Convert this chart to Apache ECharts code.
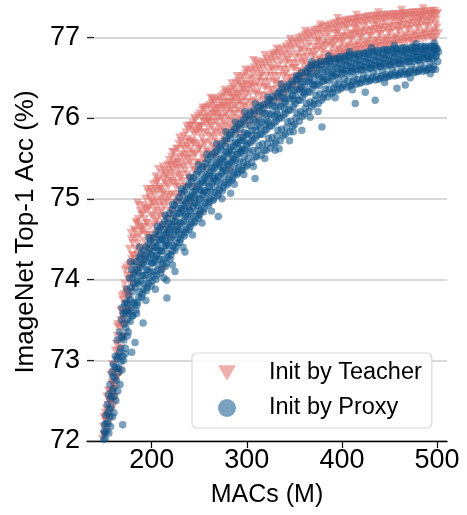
<!DOCTYPE html>
<html>
<head>
<meta charset="utf-8">
<script src="https://cdn.jsdelivr.net/npm/echarts@6/dist/echarts.min.js"></script>
<style>
  html, body { margin: 0; padding: 0; background: #fff; }
  #chart { width: 467px; height: 515px; }
</style>
</head>
<body>
<div id="chart"></div>
<script>
// Sampled subnetworks: [MACs (M), ImageNet top-1 accuracy (%)]
const teacherPoints = [
  [148.2,72.03],[149.0,72.18],[149.6,72.08],[149.9,72.3],
  [150.3,72.08],[151.1,72.35],[151.8,72.24],[152.6,72.55],[153.2,72.14],[153.9,72.45],[154.5,72.63],[154.8,72.32],
  [155.3,72.5],[156.1,72.25],[156.8,72.82],[157.4,72.6],[158.0,72.38],[158.7,72.95],[159.3,72.7],[159.8,72.5],
  [160.2,72.45],[160.9,72.85],[161.6,73.12],[162.3,72.65],[163.0,73.0],[163.6,73.3],[164.2,72.8],[164.8,73.45],
  [165.3,73.05],[165.9,72.88],[166.6,73.4],[167.2,73.62],[167.9,73.15],[168.5,73.8],[169.1,73.3],[169.7,73.55],
  [170.2,73.5],[170.8,73.28],[171.5,73.95],[172.1,73.7],[172.8,73.45],[173.4,74.15],[174.0,73.85],[174.6,73.6],
  [175.3,74.0],[175.9,73.62],[176.5,74.38],[177.1,73.85],[177.8,74.2],[178.4,74.5],[179.0,73.95],[179.6,74.3],
  [180.2,74.45],[180.9,73.92],[181.5,74.62],[182.2,74.2],[182.8,74.38],[183.5,74.7],[184.1,74.08],[184.7,74.52],
  [185.3,74.3],[185.9,74.75],[186.6,74.15],[187.2,74.55],[187.9,74.85],[188.5,74.4],[189.1,74.65],[189.7,74.25],
  [190.3,74.6],[190.9,74.3],[191.6,74.92],[192.2,74.48],[192.9,74.75],[193.5,75.0],[194.1,74.38],[194.7,74.85],
  [195.3,74.7],[195.9,74.4],[196.6,75.08],[197.2,74.55],[197.9,74.9],[198.5,75.12],[199.1,74.5],[199.7,74.8],
  [200.3,74.95],[200.9,74.5],[201.6,75.18],[202.2,74.68],[202.9,75.05],[203.5,74.85],[204.1,74.58],[204.7,75.2],
  [205.3,74.75],[205.9,75.1],[206.6,74.6],[207.2,75.25],[207.9,74.92],[208.5,74.68],[209.1,75.15],[209.7,75.0],
  [210.3,74.85],[210.9,75.32],[211.6,74.66],[212.2,75.08],[212.9,75.35],[213.5,74.78],[214.1,75.2],[214.7,74.98],
  [215.3,75.28],[215.9,74.75],[216.6,75.42],[217.2,74.95],[217.9,75.15],[218.5,75.48],[219.1,74.85],[219.7,75.32],
  [220.3,75.05],[220.9,75.52],[221.6,74.85],[222.2,75.35],[222.9,75.2],[223.5,75.58],[224.1,74.95],[224.7,75.42],
  [225.3,75.15],[225.9,75.62],[226.6,74.95],[227.2,75.45],[227.9,75.3],[228.5,75.68],[229.1,75.05],[229.7,75.52],
  [230.3,75.25],[230.9,75.72],[231.6,75.05],[232.2,75.55],[232.9,75.4],[233.5,75.78],[234.1,75.15],[234.7,75.62],
  [235.3,75.35],[235.9,75.82],[236.6,75.15],[237.2,75.65],[237.9,75.5],[238.5,75.86],[239.1,75.25],[239.7,75.7],
  [240.3,75.45],[240.9,75.9],[241.6,75.25],[242.2,75.72],[242.9,75.58],[243.5,75.94],[244.1,75.35],[244.7,75.8],
  [245.3,75.55],[245.9,75.98],[246.6,75.35],[247.2,75.82],[247.9,75.68],[248.5,76.03],[249.1,75.45],[249.7,75.88],
  [250.3,75.62],[250.9,76.06],[251.6,75.43],[252.2,75.9],[252.9,75.75],[253.5,76.1],[254.1,75.5],[254.7,75.95],
  [255.3,75.7],[255.9,76.12],[256.6,75.5],[257.2,75.95],[257.9,75.82],[258.5,76.14],[259.1,75.58],[259.7,76.0],
  [260.3,75.78],[260.9,76.16],[261.6,75.56],[262.2,76.02],[262.9,75.9],[263.5,76.19],[264.1,75.65],[264.7,76.05],
  [265.3,75.85],[265.9,76.21],[266.6,75.62],[267.2,76.08],[267.9,75.95],[268.5,76.23],[269.1,75.7],[269.7,76.12],
  [270.3,75.9],[270.9,76.25],[271.6,75.66],[272.2,76.12],[272.9,76.0],[273.5,76.27],[274.1,75.78],[274.7,76.15],
  [275.3,75.95],[275.9,76.3],[276.6,75.72],[277.2,76.15],[277.9,76.05],[278.5,76.32],[279.1,75.82],[279.7,76.2],
  [280.3,76.0],[280.9,76.33],[281.6,75.78],[282.2,76.2],[282.9,76.1],[283.5,76.36],[284.1,75.88],[284.7,76.25],
  [285.3,76.05],[285.9,76.38],[286.6,75.83],[287.2,76.25],[287.9,76.15],[288.5,76.43],[289.1,75.92],[289.7,76.3],
  [290.3,76.1],[290.9,76.46],[291.6,75.88],[292.2,76.3],[292.9,76.2],[293.5,76.5],[294.1,75.98],[294.7,76.38],
  [295.3,76.15],[295.9,76.52],[296.6,75.93],[297.2,76.35],[297.9,76.25],[298.5,76.55],[299.1,76.02],[299.7,76.42],
  [300.4,76.2],[301.2,76.58],[302.0,75.98],[302.8,76.4],[303.6,76.3],[304.4,76.6],[305.2,76.08],[306.0,76.48],[306.8,76.22],[307.6,76.63],[308.4,76.05],[309.2,76.4],
  [310.4,76.3],[311.2,76.66],[312.0,76.08],[312.8,76.5],[313.6,76.38],[314.4,76.68],[315.2,76.15],[316.0,76.55],[316.8,76.28],[317.6,76.7],[318.4,76.12],[319.2,76.45],
  [320.4,76.38],[321.2,76.73],[322.0,76.16],[322.8,76.58],[323.6,76.45],[324.4,76.76],[325.2,76.22],[326.0,76.62],[326.8,76.35],[327.6,76.78],[328.4,76.2],[329.2,76.52],
  [330.4,76.45],[331.2,76.81],[332.0,76.25],[332.8,76.65],[333.6,76.52],[334.4,76.84],[335.2,76.3],[336.0,76.7],[336.8,76.42],[337.6,76.86],[338.4,76.28],[339.2,76.6],
  [340.4,76.55],[341.2,76.89],[342.0,76.33],[342.8,76.72],[343.6,76.6],[344.4,76.92],[345.2,76.38],[346.0,76.78],[346.8,76.5],[347.6,76.94],[348.4,76.4],[349.2,76.68],
  [350.4,76.62],[351.2,76.96],[352.0,76.42],[352.8,76.8],[353.6,76.68],[354.4,76.99],[355.2,76.48],[356.0,76.85],[356.8,76.58],[357.6,77.01],[358.4,76.5],[359.2,76.75],
  [360.4,76.7],[361.2,77.03],[362.0,76.52],[362.8,76.88],[363.6,76.76],[364.4,77.05],[365.2,76.57],[366.0,76.92],[366.8,76.66],[367.6,77.07],[368.4,76.6],[369.2,76.82],
  [370.4,76.78],[371.2,77.09],[372.0,76.62],[372.8,76.95],[373.6,76.84],[374.4,77.1],[375.2,76.65],[376.0,76.98],[376.8,76.74],[377.6,77.12],[378.4,76.66],[379.2,76.9],
  [380.4,76.85],[381.2,77.13],[382.0,76.68],[382.8,77.0],[383.6,76.9],[384.4,77.14],[385.2,76.7],[386.0,77.04],[386.8,76.8],[387.6,77.16],[388.4,76.72],[389.2,76.95],
  [390.4,76.9],[391.2,77.17],[392.0,76.74],[392.8,77.05],[393.6,76.95],[394.4,77.18],[395.2,76.76],[396.0,77.08],[396.8,76.86],[397.6,77.2],[398.4,76.78],[399.2,77.0],
  [400.4,76.95],[401.2,77.2],[402.0,76.8],[402.8,77.1],[403.6,77.0],[404.4,77.21],[405.2,76.8],[406.0,77.12],[406.8,76.9],[407.6,77.22],[408.4,76.82],[409.2,77.04],
  [410.4,76.98],[411.2,77.22],[412.0,76.82],[412.8,77.12],[413.6,77.03],[414.4,77.23],[415.2,76.84],[416.0,77.15],[416.8,76.93],[417.6,77.24],[418.4,76.85],[419.2,77.06],
  [420.4,77.0],[421.2,77.24],[422.0,76.85],[422.8,77.14],[423.6,77.05],[424.4,77.25],[425.2,76.86],[426.0,77.17],[426.8,76.95],[427.6,77.26],[428.4,76.87],[429.2,77.08],
  [430.4,77.02],[431.2,77.26],[432.0,76.87],[432.8,77.16],[433.6,77.07],[434.4,77.27],[435.2,76.88],[436.0,77.19],[436.8,76.97],[437.6,77.27],[438.4,76.89],[439.2,77.1],
  [440.4,77.04],[441.2,77.27],[442.0,76.89],[442.8,77.18],[443.6,77.09],[444.4,77.28],[445.2,76.9],[446.0,77.2],[446.8,76.99],[447.6,77.28],[448.4,76.91],[449.2,77.12],
  [450.4,77.06],[451.2,77.28],[452.0,76.91],[452.8,77.2],[453.6,77.1],[454.4,77.29],[455.2,76.92],[456.0,77.22],[456.8,77.01],[457.6,77.29],[458.4,76.93],[459.2,77.14],
  [460.4,77.08],[461.2,77.29],[462.0,76.93],[462.8,77.21],[463.6,77.12],[464.4,77.3],[465.2,76.94],[466.0,77.23],[466.8,77.03],[467.6,77.3],[468.4,76.95],[469.2,77.16],
  [470.4,77.1],[471.2,77.3],[472.0,76.96],[472.8,77.22],[473.6,77.14],[474.4,77.31],[475.2,76.96],[476.0,77.24],[476.8,77.05],[477.6,77.31],[478.4,76.97],[479.2,77.18],
  [480.4,77.12],[481.2,77.31],[482.0,76.98],[482.8,77.24],[483.6,77.16],[484.4,77.32],[485.2,76.98],[486.0,77.26],[486.8,77.07],[487.6,77.32],[488.4,76.99],[489.2,77.2],
  [490.4,77.14],[491.2,77.32],[492.0,77.0],[492.8,77.26],[493.6,77.18],[494.4,77.33],[495.2,77.0],[496.0,77.27],[496.8,77.09],[497.6,77.33],[498.4,77.0],[499.2,77.22],
  [500.0,77.12],[500.8,77.3],[501.5,77.05],
  // second pass through the band
  [150.7,72.28],[152.1,72.4],[153.6,72.3],[155.7,72.62],[156.4,72.48],[157.9,72.72],[158.3,72.55],[159.6,72.85],
  [160.6,72.7],[161.3,72.55],[162.8,73.2],[163.3,72.78],[164.6,73.12],[166.2,73.22],[167.6,73.5],[168.9,73.42],[169.4,73.75],
  [170.6,73.62],[171.2,73.82],[172.5,73.88],[173.7,73.78],[174.3,74.05],[175.6,73.78],[176.2,74.18],[177.5,74.05],[178.8,74.25],[179.3,74.1],
  [180.5,74.3],[181.2,74.52],[182.6,74.6],[183.2,74.25],[184.4,74.72],[185.7,74.45],[186.3,74.68],[187.6,74.35],[188.2,74.62],[189.4,74.8],
  [190.6,74.82],[191.3,74.65],[192.6,74.58],[193.2,74.88],[194.4,74.7],[195.6,74.55],[196.2,74.88],[197.6,75.02],[198.2,74.65],[199.4,74.98],
  [200.6,75.08],[201.3,74.78],[202.6,74.95],[203.2,75.12],[204.4,74.72],[205.6,74.98],[206.2,75.22],[207.6,74.82],[208.2,75.12],[209.4,74.78],
  [210.6,75.12],[211.3,74.95],[212.6,75.24],[213.2,74.9],[214.4,75.3],[215.6,75.05],[216.2,75.18],[217.6,75.36],[218.2,75.02],[219.4,75.42],
  [220.6,75.22],[221.3,75.4],[222.6,75.06],[223.2,75.45],[224.4,75.28],[225.6,75.5],[226.2,75.2],[227.6,75.62],[228.2,75.15],[229.4,75.38],
  [230.6,75.45],[231.3,75.3],[232.6,75.65],[233.2,75.22],[234.4,75.5],[235.6,75.7],[236.2,75.42],[237.6,75.3],[238.2,75.74],[239.4,75.55],
  [240.6,75.62],[241.3,75.5],[242.6,75.85],[243.2,75.4],[244.4,75.68],[245.6,75.85],[246.2,75.55],[247.6,75.45],[248.2,75.9],[249.4,75.62],
  [250.6,75.82],[251.3,75.65],[252.6,76.0],[253.2,75.55],[254.4,75.82],[255.6,76.02],[256.2,75.68],[257.6,75.6],[258.2,76.05],[259.4,75.88],
  [260.6,75.95],[261.3,75.7],[262.6,76.1],[263.2,75.78],[264.4,75.95],[265.6,76.12],[266.2,75.75],[267.6,75.82],[268.2,76.15],[269.4,76.0],
  [270.6,76.05],[271.3,75.82],[272.6,76.2],[273.2,75.88],[274.4,76.02],[275.6,76.2],[276.2,75.85],[277.6,75.92],[278.2,76.25],[279.4,76.08],
  [280.6,76.15],[281.3,75.9],[282.6,76.3],[283.2,75.98],[284.4,76.12],[285.6,76.28],[286.2,75.95],[287.6,76.05],[288.2,76.35],[289.4,76.18],
  [290.6,76.25],[291.3,76.0],[292.6,76.42],[293.2,76.08],[294.4,76.22],[295.6,76.4],[296.2,76.05],[297.6,76.15],[298.2,76.46],[299.4,76.3],
  [300.9,76.35],[301.7,76.12],[303.1,76.5],[304.0,76.2],[305.6,76.38],[306.5,76.55],[307.9,76.15],[308.8,76.32],[309.6,76.58],
  [310.9,76.45],[311.7,76.2],[313.1,76.6],[314.0,76.28],[315.6,76.45],[316.5,76.62],[317.9,76.22],[318.8,76.38],[319.6,76.65],
  [320.9,76.52],[321.7,76.28],[323.1,76.68],[324.0,76.35],[325.6,76.52],[326.5,76.7],[327.9,76.3],[328.8,76.45],[329.6,76.72],
  [330.9,76.6],[331.7,76.36],[333.1,76.76],[334.0,76.42],[335.6,76.6],[336.5,76.78],[337.9,76.38],[338.8,76.52],[339.6,76.8],
  [340.9,76.68],[341.7,76.45],[343.1,76.84],[344.0,76.5],[345.6,76.68],[346.5,76.86],[347.9,76.46],[348.8,76.62],[349.6,76.88],
  [350.9,76.75],[351.7,76.52],[353.1,76.92],[354.0,76.58],[355.6,76.75],[356.5,76.93],[357.9,76.55],[358.8,76.68],[359.6,76.95],
  [360.9,76.82],[361.7,76.6],[363.1,76.98],[364.0,76.65],[365.6,76.82],[366.5,77.0],[367.9,76.63],[368.8,76.76],[369.6,77.02],
  [370.9,76.88],[371.7,76.68],[373.1,77.04],[374.0,76.72],[375.6,76.88],[376.5,77.05],[377.9,76.7],[378.8,76.82],[379.6,77.06],
  [380.9,76.93],[381.7,76.74],[383.1,77.08],[384.0,76.78],[385.6,76.93],[386.5,77.1],[387.9,76.76],[388.8,76.88],[389.6,77.1],
  [390.9,76.98],[391.7,76.8],[393.1,77.12],[394.0,76.84],[395.6,76.98],[396.5,77.14],[397.9,76.82],[398.8,76.93],[399.6,77.14],
  [400.9,77.02],[401.7,76.85],[403.1,77.16],[404.0,76.88],[405.6,77.02],[406.5,77.18],[407.9,76.86],[408.8,76.97],[409.6,77.17],
  [410.9,77.05],[411.7,76.88],[413.1,77.18],[414.0,76.9],[415.6,77.05],[416.5,77.2],[417.9,76.89],[418.8,77.0],[419.6,77.19],
  [420.9,77.08],[421.7,76.9],[423.1,77.2],[424.0,76.93],[425.6,77.08],[426.5,77.22],[427.9,76.91],[428.8,77.02],[429.6,77.21],
  [430.9,77.1],[431.7,76.92],[433.1,77.22],[434.0,76.95],[435.6,77.1],[436.5,77.24],[437.9,76.93],[438.8,77.04],[439.6,77.23],
  [440.9,77.12],[441.7,76.94],[443.1,77.23],[444.0,76.97],[445.6,77.12],[446.5,77.25],[447.9,76.95],[448.8,77.06],[449.6,77.24],
  [450.9,77.14],[451.7,76.96],[453.1,77.25],[454.0,76.99],[455.6,77.14],[456.5,77.26],[457.9,76.97],[458.8,77.08],[459.6,77.25],
  [460.9,77.16],[461.7,76.98],[463.1,77.26],[464.0,77.01],[465.6,77.16],[466.5,77.27],[467.9,76.99],[468.8,77.1],[469.6,77.26],
  [470.9,77.18],[471.7,77.0],[473.1,77.27],[474.0,77.03],[475.6,77.18],[476.5,77.28],[477.9,77.01],[478.8,77.12],[479.6,77.27],
  [480.9,77.2],[481.7,77.02],[483.1,77.28],[484.0,77.05],[485.6,77.2],[486.5,77.29],[487.9,77.03],[488.8,77.14],[489.6,77.28],
  [490.9,77.22],[491.7,77.04],[493.1,77.29],[494.0,77.07],[495.6,77.22],[496.5,77.3],[497.9,77.05],[498.8,77.16],[499.6,77.29],
  // ragged points along the upper and lower edges
  [163.7,73.42],[171.9,74.12],[178.1,74.58],[186.9,74.92],[195.1,75.12],[204.2,75.28],[211.8,75.4],[221.9,75.58],
  [229.3,75.76],[236.8,75.9],[244.9,76.0],[253.9,76.13],[263.9,76.24],[276.9,76.35],[289.9,76.52],[298.9,76.6],
  [309.9,76.7],[318.9,76.78],[331.5,76.86],[345.5,76.98],[361.5,77.08],[377.5,77.16],[395.5,77.24],[415.5,77.28],
  [438.5,77.31],[462.5,77.34],[485.5,77.36],
  [166.9,72.85],[176.9,73.62],[188.9,74.18],[197.9,74.35],[206.9,74.5],[214.9,74.62],[223.9,74.75],[233.9,74.95],
  [243.9,75.15],[255.9,75.38],[266.9,75.52],[278.9,75.68],[291.9,75.8],[301.9,75.9],[315.9,76.05],[334.9,76.2],
  [352.9,76.35],[372.9,76.55],[394.9,76.7],[419.9,76.8],[447.9,76.86],[474.9,76.92],[496.9,76.96],
  [203.9,74.9],[211.1,75.05],[218.9,75.25],[226.9,75.38],[235.1,75.55],[243.9,75.7],[251.1,75.9],[259.1,75.96],
  [266.9,76.05],[275.1,76.12],[284.9,76.2],[294.9,76.32],[305.1,76.42],[314.9,76.52],[327.1,76.6],[341.9,76.75],
  [357.1,76.85],[375.1,76.95],[395.1,77.05],[415.1,77.1],[437.1,77.15],[460.1,77.2],[482.1,77.24],
  // stragglers outside the main band
  [282.6,75.35],[250.8,74.8],[240.0,74.94],[212.2,74.12],[228.0,74.65],[217.5,74.51],[226.6,75.02],
  [324.5,76.2],[357.9,76.34],[401.7,76.69],[443.8,76.74],[310.6,75.99],
  [207.0,75.37],[240.3,75.91],[284.2,76.43],[307.0,76.72],[328.0,76.8],[185.0,74.95],[262.0,76.25]
];

const proxyPoints = [
  [149.5,72.02],[150.0,72.12],
  [150.4,72.2],[151.2,72.03],[151.9,72.32],[152.6,72.12],[153.3,72.45],[154.0,72.22],[154.7,72.58],[155.0,72.1],
  [155.4,72.4],[156.1,72.7],[156.8,72.18],[157.5,72.55],[158.2,72.85],[158.9,72.3],[159.5,72.95],[159.9,72.65],
  [160.3,72.35],[161.0,72.78],[161.7,73.05],[162.4,72.5],[163.1,72.9],[163.8,73.25],[164.4,72.62],[164.9,73.05],
  [165.3,72.85],[166.0,73.35],[166.7,72.7],[167.4,73.15],[168.1,73.5],[168.8,72.88],[169.4,73.3],[169.9,73.58],
  [170.3,73.0],[171.0,73.45],[171.7,73.7],[172.4,73.15],[173.1,73.6],[173.8,73.88],[174.4,73.3],[174.9,73.7],
  [175.3,73.35],[176.0,73.8],[176.7,74.02],[177.4,73.48],[178.1,73.9],[178.8,74.12],[179.4,73.55],[179.9,73.85],
  [180.3,73.55],[181.0,73.95],[181.7,74.18],[182.4,73.7],[183.1,74.05],[183.8,74.22],[184.4,73.68],[184.9,73.98],
  [185.3,73.72],[186.0,74.1],[186.7,74.28],[187.4,73.85],[188.1,74.15],[188.8,74.32],[189.4,73.78],[189.9,74.05],
  [190.3,73.82],[191.0,74.2],[191.7,74.36],[192.4,73.95],[193.1,74.25],[193.8,74.4],[194.4,73.86],[194.9,74.12],
  [195.3,73.9],[196.0,74.28],[196.7,74.44],[197.4,74.02],[198.1,74.32],[198.8,74.48],[199.4,73.92],[199.9,74.2],
  [200.3,73.98],[201.0,74.35],[201.7,74.52],[202.4,74.1],[203.1,74.4],[203.8,74.56],[204.4,74.0],[204.9,74.28],
  [205.3,74.05],[206.0,74.42],[206.7,74.6],[207.4,74.18],[208.1,74.48],[208.8,74.64],[209.4,74.08],[209.9,74.35],
  [210.3,74.12],[211.0,74.5],[211.7,74.68],[212.4,74.25],[213.1,74.55],[213.8,74.72],[214.4,74.16],[214.9,74.42],
  [215.3,74.2],[216.0,74.58],[216.7,74.76],[217.4,74.32],[218.1,74.62],[218.8,74.82],[219.4,74.25],[219.9,74.5],
  [220.3,74.3],[221.0,74.68],[221.7,74.87],[222.4,74.42],[223.1,74.72],[223.8,74.92],[224.4,74.36],[224.9,74.6],
  [225.3,74.4],[226.0,74.78],[226.7,74.97],[227.4,74.52],[228.1,74.82],[228.8,75.02],[229.4,74.46],[229.9,74.7],
  [230.3,74.5],[231.0,74.88],[231.7,75.07],[232.4,74.62],[233.1,74.92],[233.8,75.1],[234.4,74.54],[234.9,74.78],
  [235.3,74.58],[236.0,74.95],[236.7,75.14],[237.4,74.7],[238.1,75.0],[238.8,75.18],[239.4,74.62],[239.9,74.86],
  [240.3,74.65],[241.0,75.02],[241.7,75.22],[242.4,74.78],[243.1,75.08],[243.8,75.26],[244.4,74.7],[244.9,74.94],
  [245.3,74.72],[246.0,75.1],[246.7,75.3],[247.4,74.85],[248.1,75.15],[248.8,75.34],[249.4,74.76],[249.9,75.0],
  [250.3,74.8],[251.0,75.18],[251.7,75.37],[252.4,74.92],[253.1,75.22],[253.8,75.4],[254.4,74.84],[254.9,75.08],
  [255.3,74.88],[256.0,75.25],[256.7,75.44],[257.4,75.0],[258.1,75.3],[258.8,75.48],[259.4,74.92],[259.9,75.15],
  [260.3,74.95],[261.0,75.32],[261.7,75.52],[262.4,75.08],[263.1,75.38],[263.8,75.55],[264.4,74.98],[264.9,75.22],
  [265.3,75.0],[266.0,75.38],[266.7,75.58],[267.4,75.14],[268.1,75.44],[268.8,75.6],[269.4,75.04],[269.9,75.28],
  [270.3,75.06],[271.0,75.45],[271.7,75.64],[272.4,75.2],[273.1,75.5],[273.8,75.68],[274.4,75.1],[274.9,75.35],
  [275.3,75.14],[276.0,75.52],[276.7,75.72],[277.4,75.28],[278.1,75.58],[278.8,75.75],[279.4,75.17],[279.9,75.42],
  [280.3,75.2],[281.0,75.58],[281.7,75.79],[282.4,75.34],[283.1,75.64],[283.8,75.82],[284.4,75.23],[284.9,75.48],
  [285.3,75.26],[286.0,75.65],[286.7,75.86],[287.4,75.4],[288.1,75.7],[288.8,75.88],[289.4,75.3],[289.9,75.55],
  [290.3,75.32],[291.0,75.7],[291.7,75.92],[292.4,75.46],[293.1,75.76],[293.8,75.94],[294.4,75.35],[294.9,75.6],
  [295.3,75.37],[296.0,75.76],[296.7,75.98],[297.4,75.52],[298.1,75.82],[298.8,76.01],[299.4,75.4],[299.9,75.66],
  [300.4,75.42],[301.2,75.8],[302.0,76.04],[302.8,75.58],[303.6,75.9],[304.4,76.07],[305.2,75.45],[306.0,75.72],[306.8,75.98],[307.6,76.1],[308.4,75.52],[309.2,75.85],
  [310.4,75.52],[311.2,75.9],[312.0,76.13],[312.8,75.66],[313.6,75.98],[314.4,76.15],[315.2,75.54],[316.0,75.8],[316.8,76.06],[317.6,76.17],[318.4,75.6],[319.2,75.92],
  [320.4,75.6],[321.2,75.98],[322.0,76.2],[322.8,75.75],[323.6,76.06],[324.4,76.23],[325.2,75.63],[326.0,75.9],[326.8,76.15],[327.6,76.27],[328.4,75.68],[329.2,76.02],
  [330.4,75.7],[331.2,76.08],[332.0,76.3],[332.8,75.85],[333.6,76.16],[334.4,76.33],[335.2,75.72],[336.0,76.0],[336.8,76.25],[337.6,76.36],[338.4,75.78],[339.2,76.12],
  [340.4,75.8],[341.2,76.18],[342.0,76.39],[342.8,75.95],[343.6,76.26],[344.4,76.42],[345.2,75.83],[346.0,76.1],[346.8,76.34],[347.6,76.45],[348.4,75.9],[349.2,76.22],
  [350.4,75.92],[351.2,76.28],[352.0,76.48],[352.8,76.06],[353.6,76.36],[354.4,76.52],[355.2,75.96],[356.0,76.22],[356.8,76.44],[357.6,76.56],[358.4,76.02],[359.2,76.32],
  [360.4,76.05],[361.2,76.38],[362.0,76.58],[362.8,76.18],[363.6,76.46],[364.4,76.62],[365.2,76.08],[366.0,76.32],[366.8,76.54],[367.6,76.65],[368.4,76.14],[369.2,76.42],
  [370.4,76.17],[371.2,76.46],[372.0,76.66],[372.8,76.28],[373.6,76.54],[374.4,76.68],[375.2,76.18],[376.0,76.4],[376.8,76.6],[377.6,76.7],[378.4,76.22],[379.2,76.5],
  [380.4,76.25],[381.2,76.52],[382.0,76.7],[382.8,76.36],[383.6,76.58],[384.4,76.71],[385.2,76.26],[386.0,76.46],[386.8,76.64],[387.6,76.73],[388.4,76.3],[389.2,76.55],
  [390.4,76.32],[391.2,76.56],[392.0,76.73],[392.8,76.42],[393.6,76.62],[394.4,76.74],[395.2,76.34],[396.0,76.5],[396.8,76.68],[397.6,76.76],[398.4,76.36],[399.2,76.6],
  [400.4,76.38],[401.2,76.6],[402.0,76.76],[402.8,76.48],[403.6,76.66],[404.4,76.77],[405.2,76.38],[406.0,76.55],[406.8,76.7],[407.6,76.78],[408.4,76.4],[409.2,76.63],
  [410.4,76.41],[411.2,76.62],[412.0,76.78],[412.8,76.5],[413.6,76.68],[414.4,76.79],[415.2,76.42],[416.0,76.58],[416.8,76.72],[417.6,76.8],[418.4,76.43],[419.2,76.65],
  [420.4,76.44],[421.2,76.64],[422.0,76.8],[422.8,76.53],[423.6,76.7],[424.4,76.81],[425.2,76.45],[426.0,76.6],[426.8,76.74],[427.6,76.82],[428.4,76.46],[429.2,76.67],
  [430.4,76.47],[431.2,76.66],[432.0,76.82],[432.8,76.56],[433.6,76.72],[434.4,76.83],[435.2,76.47],[436.0,76.62],[436.8,76.76],[437.6,76.84],[438.4,76.48],[439.2,76.69],
  [440.4,76.49],[441.2,76.68],[442.0,76.84],[442.8,76.58],[443.6,76.74],[444.4,76.85],[445.2,76.5],[446.0,76.64],[446.8,76.78],[447.6,76.85],[448.4,76.51],[449.2,76.71],
  [450.4,76.52],[451.2,76.7],[452.0,76.85],[452.8,76.6],[453.6,76.76],[454.4,76.86],[455.2,76.52],[456.0,76.66],[456.8,76.8],[457.6,76.86],[458.4,76.53],[459.2,76.72],
  [460.4,76.54],[461.2,76.72],[462.0,76.86],[462.8,76.62],[463.6,76.78],[464.4,76.87],[465.2,76.54],[466.0,76.68],[466.8,76.81],[467.6,76.87],[468.4,76.55],[469.2,76.74],
  [470.4,76.56],[471.2,76.74],[472.0,76.87],[472.8,76.64],[473.6,76.79],[474.4,76.88],[475.2,76.56],[476.0,76.7],[476.8,76.82],[477.6,76.88],[478.4,76.57],[479.2,76.76],
  [480.4,76.58],[481.2,76.75],[482.0,76.88],[482.8,76.66],[483.6,76.8],[484.4,76.89],[485.2,76.58],[486.0,76.72],[486.8,76.83],[487.6,76.89],[488.4,76.59],[489.2,76.77],
  [490.4,76.6],[491.2,76.76],[492.0,76.89],[492.8,76.68],[493.6,76.81],[494.4,76.89],[495.2,76.6],[496.0,76.73],[496.8,76.84],[497.6,76.89],[498.4,76.6],[499.2,76.78],
  [500.0,76.86],[500.8,76.7],[501.5,76.82],
  // second pass through the band
  [150.8,72.1],[152.2,72.22],[153.7,72.35],[155.8,72.3],[156.5,72.52],[157.2,72.42],[158.6,72.62],[159.2,72.8],
  [160.7,72.55],[161.4,72.92],[162.9,72.75],[163.4,73.02],[164.7,72.9],[166.3,73.1],[167.7,72.98],[168.4,73.28],[169.6,73.05],
  [170.7,73.25],[171.4,73.58],[172.9,73.4],[173.4,73.72],[174.7,73.5],[175.7,73.62],[176.4,73.58],[177.8,73.75],[178.4,73.65],[179.6,74.02],
  [180.7,73.72],[181.4,74.08],[182.9,73.9],[183.4,73.62],[184.7,74.12],[185.7,73.95],[186.4,73.78],[187.8,74.25],[188.4,73.98],[189.6,74.18],
  [190.7,74.05],[191.4,73.88],[192.9,74.3],[193.4,74.05],[194.7,74.22],[195.7,74.12],[196.4,73.95],[197.8,74.38],[198.4,74.1],[199.6,74.3],
  [200.7,74.2],[201.4,74.05],[202.9,74.46],[203.4,74.25],[204.7,74.4],[205.7,74.3],[206.4,74.12],[207.8,74.55],[208.4,74.25],[209.6,74.5],
  [210.7,74.35],[211.4,74.2],[212.9,74.62],[213.4,74.4],[214.7,74.55],[215.7,74.45],[216.4,74.28],[217.8,74.7],[218.4,74.42],[219.6,74.65],
  [220.7,74.52],[221.4,74.35],[222.9,74.8],[223.4,74.55],[224.7,74.72],[225.7,74.62],[226.4,74.45],[227.8,74.88],[228.4,74.6],[229.6,74.82],
  [230.7,74.7],[231.4,74.55],[232.9,74.98],[233.4,74.72],[234.7,74.88],[235.7,74.8],[236.4,74.62],[237.8,75.05],[238.4,74.78],[239.6,74.98],
  [240.7,74.85],[241.4,74.7],[242.9,75.15],[243.4,74.9],[244.7,75.05],[245.7,74.95],[246.4,74.78],[247.8,75.22],[248.4,74.92],[249.6,75.12],
  [250.7,75.0],[251.4,74.85],[252.9,75.3],[253.4,75.05],[254.7,75.2],[255.7,75.1],[256.4,74.95],[257.8,75.38],[258.4,75.08],[259.6,75.28],
  [260.7,75.15],[261.4,75.0],[262.9,75.45],[263.4,75.2],[264.7,75.35],[265.7,75.25],[266.4,75.08],[267.8,75.52],[268.4,75.22],[269.6,75.42],
  [270.7,75.28],[271.4,75.12],[272.9,75.6],[273.4,75.32],[274.7,75.48],[275.7,75.38],[276.4,75.2],[277.8,75.65],[278.4,75.35],[279.6,75.55],
  [280.7,75.42],[281.4,75.25],[282.9,75.74],[283.4,75.45],[284.7,75.6],[285.7,75.5],[286.4,75.32],[287.8,75.8],[288.4,75.48],[289.6,75.68],
  [290.7,75.55],[291.4,75.38],[292.9,75.86],[293.4,75.58],[294.7,75.72],[295.7,75.62],[296.4,75.45],[297.8,75.92],[298.4,75.6],[299.6,75.8],
  [300.9,75.68],[301.7,75.5],[303.1,75.98],[304.0,75.7],[305.6,75.85],[306.5,75.6],[307.9,76.05],[308.8,75.75],[309.6,75.95],
  [310.9,75.78],[311.7,75.6],[313.1,76.08],[314.0,75.8],[315.6,75.95],[316.5,75.68],[317.9,76.12],[318.8,75.84],[319.6,76.05],
  [320.9,75.86],[321.7,75.68],[323.1,76.16],[324.0,75.9],[325.6,76.04],[326.5,75.76],[327.9,76.22],[328.8,75.94],[329.6,76.14],
  [330.9,75.96],[331.7,75.78],[333.1,76.26],[334.0,76.0],[335.6,76.14],[336.5,75.86],[337.9,76.32],[338.8,76.04],[339.6,76.24],
  [340.9,76.06],[341.7,75.88],[343.1,76.36],[344.0,76.1],[345.6,76.24],[346.5,75.96],[347.9,76.42],[348.8,76.14],[349.6,76.34],
  [350.9,76.18],[351.7,76.0],[353.1,76.46],[354.0,76.22],[355.6,76.35],[356.5,76.08],[357.9,76.52],[358.8,76.26],[359.6,76.45],
  [360.9,76.3],[361.7,76.12],[363.1,76.56],[364.0,76.33],[365.6,76.45],[366.5,76.2],[367.9,76.62],[368.8,76.36],[369.6,76.55],
  [370.9,76.4],[371.7,76.22],[373.1,76.62],[374.0,76.42],[375.6,76.52],[376.5,76.3],[377.9,76.66],[378.8,76.45],[379.6,76.6],
  [380.9,76.46],[381.7,76.3],[383.1,76.66],[384.0,76.48],[385.6,76.57],[386.5,76.36],[387.9,76.7],[388.8,76.5],[389.6,76.64],
  [390.9,76.52],[391.7,76.37],[393.1,76.7],[394.0,76.54],[395.6,76.62],[396.5,76.42],[397.9,76.73],[398.8,76.55],[399.6,76.68],
  [400.9,76.56],[401.7,76.42],[403.1,76.73],[404.0,76.58],[405.6,76.65],[406.5,76.46],[407.9,76.75],[408.8,76.58],[409.6,76.7],
  [410.9,76.58],[411.7,76.45],[413.1,76.75],[414.0,76.6],[415.6,76.67],[416.5,76.48],[417.9,76.77],[418.8,76.6],[419.6,76.72],
  [420.9,76.6],[421.7,76.48],[423.1,76.77],[424.0,76.63],[425.6,76.69],[426.5,76.5],[427.9,76.79],[428.8,76.62],[429.6,76.74],
  [430.9,76.62],[431.7,76.5],[433.1,76.79],[434.0,76.65],[435.6,76.71],[436.5,76.52],[437.9,76.81],[438.8,76.64],[439.6,76.76],
  [440.9,76.64],[441.7,76.52],[443.1,76.81],[444.0,76.67],[445.6,76.73],[446.5,76.54],[447.9,76.83],[448.8,76.66],[449.6,76.78],
  [450.9,76.66],[451.7,76.54],[453.1,76.82],[454.0,76.69],[455.6,76.75],[456.5,76.56],[457.9,76.84],[458.8,76.68],[459.6,76.8],
  [460.9,76.68],[461.7,76.56],[463.1,76.83],[464.0,76.71],[465.6,76.77],[466.5,76.58],[467.9,76.85],[468.8,76.7],[469.6,76.82],
  [470.9,76.7],[471.7,76.58],[473.1,76.84],[474.0,76.73],[475.6,76.79],[476.5,76.6],[477.9,76.86],[478.8,76.72],[479.6,76.83],
  [480.9,76.72],[481.7,76.6],[483.1,76.85],[484.0,76.75],[485.6,76.8],[486.5,76.62],[487.9,76.87],[488.8,76.74],[489.6,76.84],
  [490.9,76.74],[491.7,76.62],[493.1,76.86],[494.0,76.76],[495.6,76.81],[496.5,76.64],[497.9,76.88],[498.8,76.76],[499.6,76.85],
  // ragged points along the upper and lower edges
  [168.7,73.65],[177.9,74.22],[187.1,74.4],[196.9,74.52],[205.9,74.66],[214.2,74.8],[222.1,74.93],[231.1,75.12],
  [240.1,75.27],[249.1,75.42],[258.1,75.55],[268.1,75.68],[278.1,75.83],[288.1,75.95],[298.1,76.08],[309.1,76.18],
  [322.1,76.26],[336.1,76.42],[352.1,76.52],[368.1,76.7],[386.1,76.77],[408.1,76.82],[431.1,76.87],[455.1,76.9],
  [478.1,76.92],[497.1,76.93],
  [172.1,73.08],[184.1,73.58],[193.9,73.74],[203.9,73.88],[212.9,74.02],[221.9,74.18],[232.9,74.4],[242.9,74.55],
  [252.9,74.7],[262.9,74.85],[273.9,75.0],[286.9,75.18],[296.9,75.3],[306.9,75.4],[318.9,75.5],[333.9,75.62],
  [344.9,75.72],[357.9,75.85],[374.9,76.08],[392.9,76.25],[410.9,76.35],[444.9,76.44],[471.9,76.5],[492.9,76.55],
  [202.1,74.22],[207.7,74.36],[213.6,74.48],[219.2,74.6],[226.8,74.66],[232.1,74.85],[238.7,74.9],[245.1,75.02],
  [251.9,75.1],[257.1,75.22],[264.1,75.28],[271.9,75.4],[277.1,75.46],[284.1,75.55],[291.9,75.62],[297.1,75.72],
  [304.7,75.78],[313.9,75.88],[322.5,75.95],[331.9,76.05],[339.9,76.2],[348.1,76.28],[357.1,76.38],[365.9,76.5],
  // stragglers below the main band
  [224.5,74.1],[235.0,74.34],[308.7,75.25],[270.0,74.78],[349.0,75.83],[329.8,75.6],[215.8,73.99],
  [414.0,76.18],[379.0,75.89],[435.0,76.22],[457.9,76.37],[466.6,76.41],[366.6,76.01],[424.6,76.32],
  [216.0,73.77],[191.0,73.46],[182.5,73.22],[179.0,73.1],[169.5,72.2],[283.0,75.07]
];

const seriesNames = ['Init by Teacher', 'Init by Proxy'];
const xTickValues = [200, 300, 400, 500];
const yTickValues = [72, 73, 74, 75, 76, 77];

const FONT = 'Liberation Sans, Arial, sans-serif';
const TRI_DOWN = 'path://M0,0L10,0L5,8.66Z';

const chart = echarts.init(document.getElementById('chart'), null, { renderer: 'canvas' });

chart.setOption({
  animation: false,
  backgroundColor: '#ffffff',
  textStyle: { fontFamily: FONT },
  grid: { left: 87, right: 20, top: 5, bottom: 74, containLabel: false },
  xAxis: {
    type: 'value',
    min: 132,
    max: 510.5,
    name: 'MACs (M)',
    nameLocation: 'middle',
    nameGap: 42,
    nameTextStyle: { fontSize: 25, color: '#000', fontFamily: FONT },
    axisLine: { show: true, onZero: false, lineStyle: { color: '#000', width: 1.4 } },
    axisTick: { show: true, length: 7, customValues: xTickValues, lineStyle: { color: '#000', width: 1.2 } },
    axisLabel: { customValues: xTickValues, fontSize: 27, color: '#000', margin: 6, fontFamily: FONT },
    splitLine: { show: false }
  },
  yAxis: {
    type: 'value',
    min: 72,
    max: 77.4,
    interval: 1,
    name: 'ImageNet Top-1 Acc (%)',
    nameLocation: 'middle',
    nameGap: 48,
    nameTextStyle: { fontSize: 26, color: '#000', fontFamily: FONT, padding: [0, 18, 0, 0] },
    axisLine: { show: false },
    axisTick: { show: true, inside: true, length: 7, customValues: yTickValues, lineStyle: { color: '#222', width: 1.2 } },
    axisLabel: { customValues: yTickValues, fontSize: 27, color: '#000', margin: 7, fontFamily: FONT },
    splitLine: {
      show: true,
      lineStyle: {
        color: ['#cccccc', '#cccccc', '#cccccc', '#cccccc', '#cccccc', '#cccccc', 'rgba(0,0,0,0)'],
        width: 1.5
      }
    }
  },
  legend: {
    orient: 'vertical',
    left: 192,
    top: 353,
    padding: [8, 10, 8, 26],
    itemGap: 11,
    itemWidth: 18,
    itemHeight: 18,
    backgroundColor: 'rgba(255,255,255,0.85)',
    borderColor: '#d8d8d8',
    borderWidth: 1.2,
    borderRadius: 5,
    textStyle: { fontSize: 23.5, color: '#000', fontFamily: FONT, padding: [0, 0, 0, 28], lineHeight: 24 },
    data: [
      { name: seriesNames[0], icon: TRI_DOWN },
      { name: seriesNames[1], icon: 'circle' }
    ]
  },
  series: [
    {
      name: seriesNames[0],
      type: 'scatter',
      symbol: TRI_DOWN,
      symbolSize: [9, 8],
      itemStyle: { color: '#e0706a', opacity: 0.55 },
      data: teacherPoints,
      z: 2
    },
    {
      name: seriesNames[1],
      type: 'scatter',
      symbol: 'circle',
      symbolSize: 7.5,
      itemStyle: { color: '#0b5286', opacity: 0.55 },
      data: proxyPoints,
      z: 3
    }
  ]
});
</script>
</body>
</html>
